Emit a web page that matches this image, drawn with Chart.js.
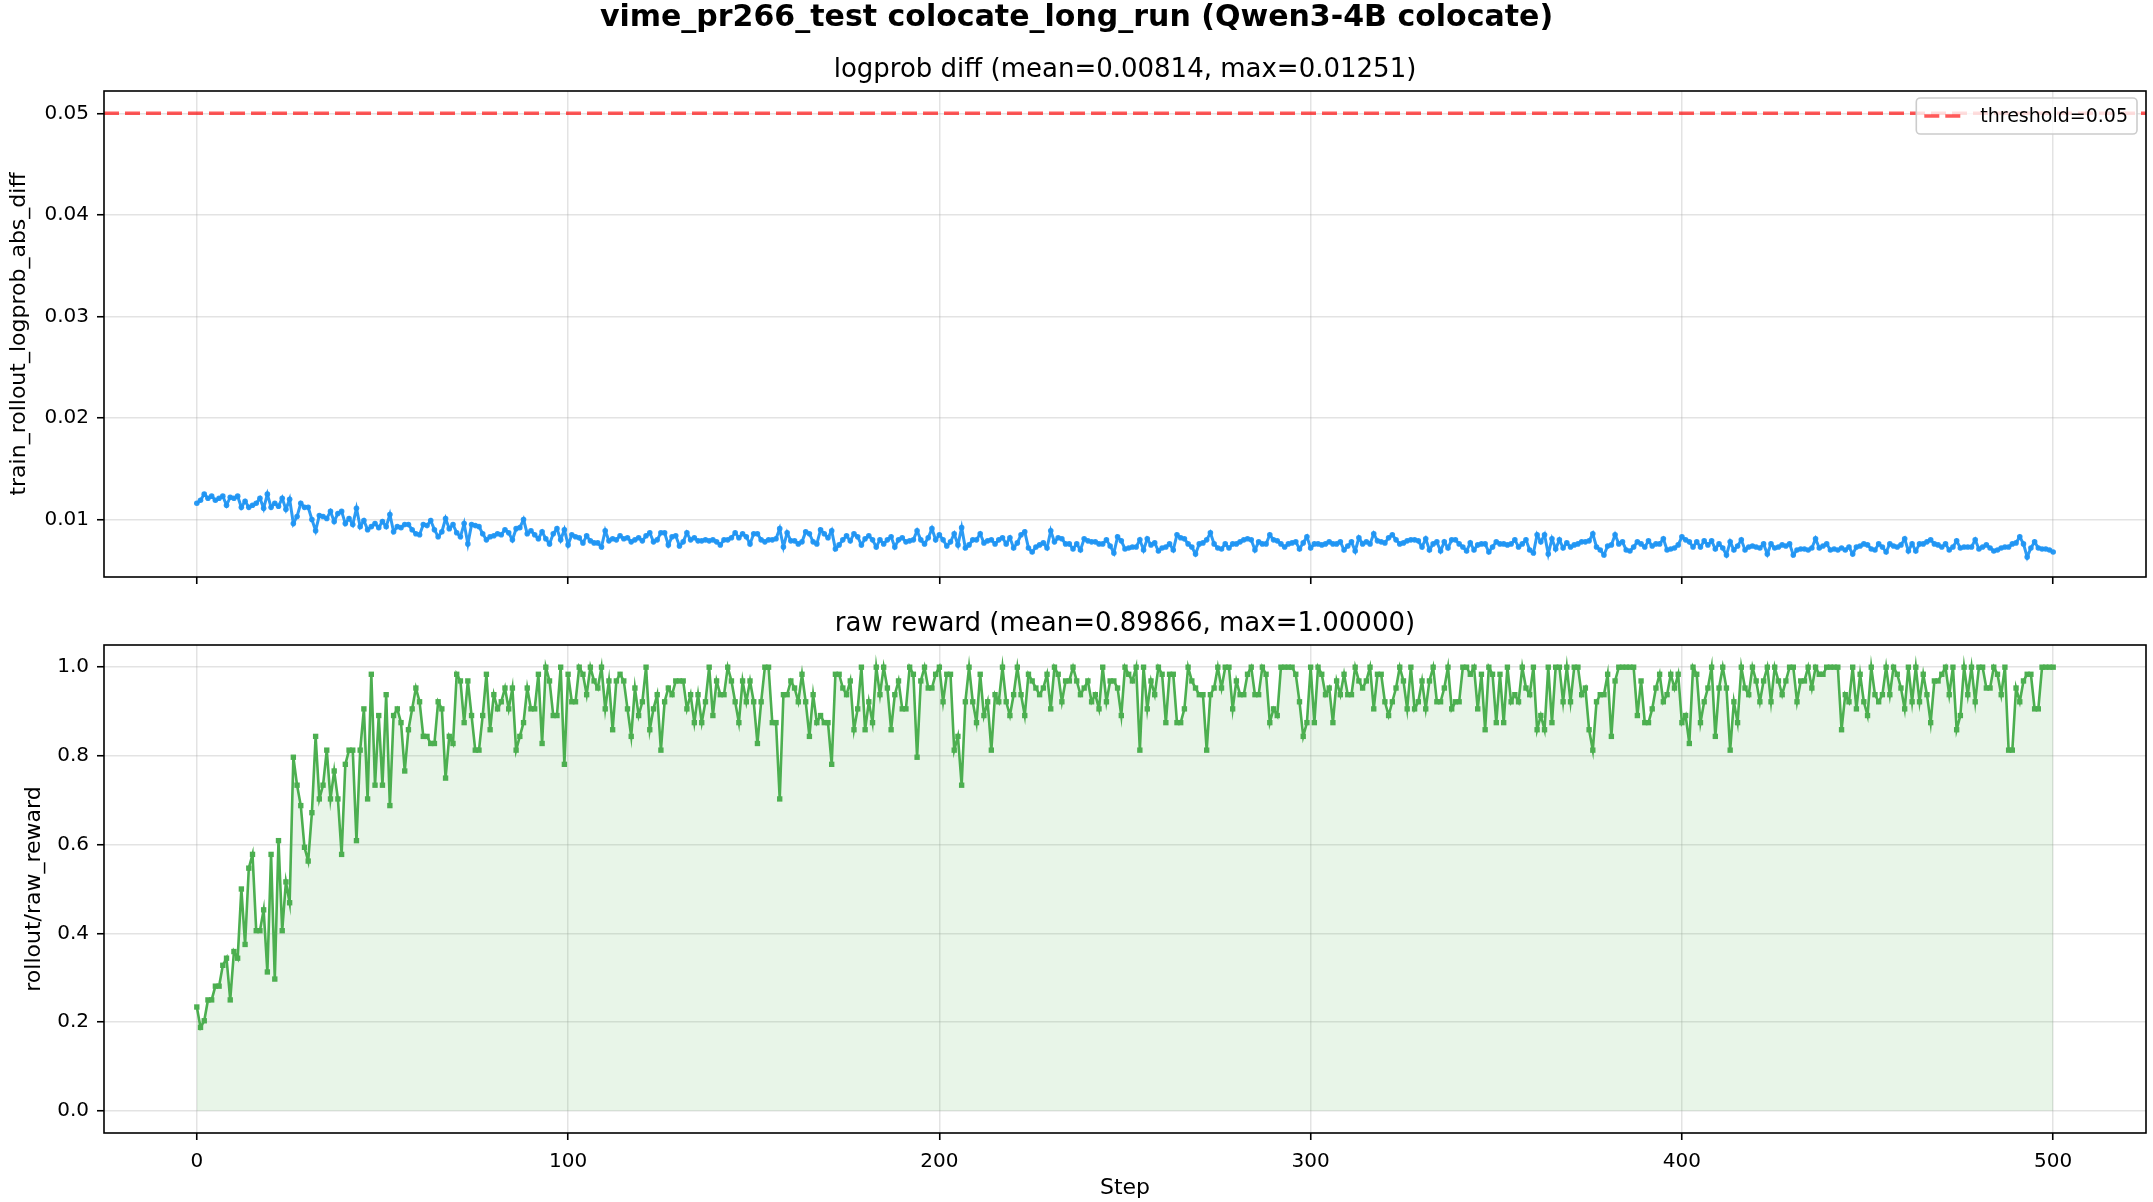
<!DOCTYPE html>
<html>
<head>
<meta charset="utf-8">
<script src="https://cdn.jsdelivr.net/npm/chart.js@4.4.0/dist/chart.umd.min.js"></script>
<style>
html,body{margin:0;padding:0;background:#ffffff;}
#wrap{position:relative;width:2153px;height:1202px;overflow:hidden;background:#fff;}
#sup{position:absolute;left:0;top:0;width:2153px;text-align:center;font-family:"DejaVu Sans";font-weight:bold;font-size:30px;line-height:32px;color:#000;z-index:5;}
canvas{position:absolute;left:0;}
#c1{top:0;}
#c2{top:600px;}
</style>
</head>
<body>
<div id="wrap">
<div id="sup">vime_pr266_test colocate_long_run (Qwen3-4B colocate)</div>
<canvas id="c1" width="2153" height="600"></canvas>
<canvas id="c2" width="2153" height="602"></canvas>
</div>
<script>
// ---------------- data ----------------
const suptitle = "vime_pr266_test colocate_long_run (Qwen3-4B colocate)";
const title1 = "logprob diff (mean=0.00814, max=0.01251)";
const title2 = "raw reward (mean=0.89866, max=1.00000)";
const ylabel1 = "train_rollout_logprob_abs_diff";
const ylabel2 = "rollout/raw_reward";
const xlabel = "Step";
const thresholdLabel = "threshold=0.05";
const threshold = 0.05;
const xTicks = [0, 100, 200, 300, 400, 500];
const yTicks1 = [0.01, 0.02, 0.03, 0.04, 0.05];
const yTicks2 = [0.0, 0.2, 0.4, 0.6, 0.8, 1.0];
const steps = Array.from({length: 501}, (_, i) => i);

const logprobDiff = [
0.0116,0.0119,0.0125,0.0121,0.0123,0.0119,0.0121,0.0123,0.0114,0.0122,
0.0121,0.0123,0.0112,0.0118,0.0112,0.0114,0.0116,0.0121,0.0111,0.0125,
0.0112,0.0116,0.0113,0.0121,0.0110,0.0120,0.0096,0.0103,0.0116,0.0112,
0.0112,0.0100,0.0089,0.0104,0.0103,0.0101,0.0108,0.0098,0.0106,0.0108,
0.0096,0.0101,0.0095,0.0111,0.0093,0.0099,0.0090,0.0093,0.0096,0.0092,
0.0098,0.0093,0.0105,0.0088,0.0093,0.0092,0.0095,0.0095,0.0090,0.0086,
0.0085,0.0095,0.0094,0.0099,0.0090,0.0083,0.0088,0.0101,0.0091,0.0095,
0.0087,0.0083,0.0096,0.0076,0.0095,0.0094,0.0093,0.0086,0.0080,0.0083,
0.0084,0.0086,0.0085,0.0090,0.0087,0.0080,0.0091,0.0092,0.0100,0.0086,
0.0089,0.0085,0.0081,0.0088,0.0081,0.0076,0.0086,0.0091,0.0080,0.0090,
0.0075,0.0085,0.0083,0.0082,0.0077,0.0084,0.0079,0.0077,0.0077,0.0073,
0.0089,0.0079,0.0081,0.0080,0.0084,0.0081,0.0082,0.0078,0.0080,0.0082,
0.0079,0.0084,0.0087,0.0078,0.0080,0.0087,0.0087,0.0075,0.0083,0.0084,
0.0074,0.0078,0.0087,0.0080,0.0082,0.0079,0.0079,0.0080,0.0079,0.0080,
0.0078,0.0075,0.0080,0.0080,0.0082,0.0087,0.0082,0.0086,0.0083,0.0076,
0.0086,0.0086,0.0080,0.0078,0.0080,0.0080,0.0081,0.0091,0.0073,0.0087,
0.0079,0.0079,0.0076,0.0078,0.0088,0.0086,0.0078,0.0076,0.0090,0.0086,
0.0082,0.0089,0.0071,0.0075,0.0080,0.0084,0.0079,0.0086,0.0083,0.0075,
0.0081,0.0084,0.0080,0.0073,0.0080,0.0076,0.0080,0.0083,0.0073,0.0080,
0.0082,0.0078,0.0079,0.0080,0.0089,0.0080,0.0076,0.0082,0.0091,0.0080,
0.0085,0.0080,0.0074,0.0078,0.0086,0.0075,0.0092,0.0072,0.0075,0.0080,
0.0080,0.0086,0.0077,0.0079,0.0080,0.0076,0.0080,0.0082,0.0076,0.0082,
0.0072,0.0077,0.0085,0.0088,0.0072,0.0068,0.0073,0.0075,0.0077,0.0072,
0.0089,0.0078,0.0082,0.0081,0.0076,0.0076,0.0071,0.0076,0.0070,0.0081,
0.0079,0.0078,0.0078,0.0076,0.0076,0.0080,0.0074,0.0067,0.0083,0.0079,
0.0071,0.0072,0.0073,0.0073,0.0080,0.0070,0.0081,0.0075,0.0077,0.0069,
0.0072,0.0073,0.0076,0.0070,0.0085,0.0082,0.0081,0.0076,0.0073,0.0066,
0.0076,0.0077,0.0080,0.0087,0.0076,0.0072,0.0071,0.0076,0.0072,0.0076,
0.0076,0.0078,0.0080,0.0081,0.0080,0.0070,0.0078,0.0076,0.0076,0.0085,
0.0080,0.0079,0.0076,0.0073,0.0076,0.0077,0.0078,0.0071,0.0077,0.0083,
0.0072,0.0076,0.0076,0.0075,0.0076,0.0078,0.0076,0.0076,0.0078,0.0070,
0.0074,0.0078,0.0069,0.0082,0.0076,0.0078,0.0076,0.0086,0.0079,0.0078,
0.0077,0.0082,0.0085,0.0080,0.0076,0.0077,0.0079,0.0080,0.0080,0.0079,
0.0073,0.0081,0.0070,0.0076,0.0078,0.0069,0.0078,0.0072,0.0080,0.0080,
0.0076,0.0073,0.0069,0.0077,0.0070,0.0075,0.0076,0.0076,0.0068,0.0073,
0.0078,0.0076,0.0076,0.0075,0.0076,0.0080,0.0073,0.0076,0.0080,0.0070,
0.0067,0.0085,0.0078,0.0085,0.0066,0.0081,0.0071,0.0080,0.0072,0.0077,
0.0073,0.0075,0.0076,0.0078,0.0078,0.0079,0.0086,0.0073,0.0070,0.0065,
0.0074,0.0075,0.0085,0.0076,0.0078,0.0070,0.0069,0.0073,0.0078,0.0076,
0.0073,0.0079,0.0074,0.0076,0.0076,0.0081,0.0070,0.0071,0.0072,0.0075,
0.0083,0.0080,0.0078,0.0073,0.0078,0.0073,0.0079,0.0075,0.0079,0.0071,
0.0076,0.0072,0.0065,0.0078,0.0070,0.0074,0.0080,0.0070,0.0073,0.0074,
0.0073,0.0072,0.0076,0.0066,0.0076,0.0072,0.0073,0.0075,0.0074,0.0076,
0.0065,0.0070,0.0071,0.0071,0.0070,0.0072,0.0081,0.0072,0.0074,0.0076,
0.0070,0.0071,0.0070,0.0072,0.0070,0.0073,0.0066,0.0073,0.0074,0.0076,
0.0075,0.0071,0.0070,0.0076,0.0073,0.0068,0.0076,0.0074,0.0073,0.0075,
0.0081,0.0069,0.0076,0.0069,0.0076,0.0076,0.0078,0.0080,0.0076,0.0075,
0.0073,0.0076,0.0070,0.0073,0.0079,0.0072,0.0073,0.0073,0.0073,0.0080,
0.0071,0.0073,0.0075,0.0072,0.0069,0.0070,0.0072,0.0073,0.0073,0.0076,
0.0077,0.0083,0.0076,0.0063,0.0072,0.0078,0.0072,0.0071,0.0071,0.0070,
0.0068
];

const rawReward = [
0.234,0.188,0.203,0.250,0.250,0.281,0.281,0.328,0.344,0.250,
0.359,0.344,0.500,0.375,0.547,0.578,0.406,0.406,0.453,0.313,
0.578,0.297,0.609,0.406,0.516,0.469,0.797,0.734,0.688,0.594,
0.563,0.672,0.844,0.703,0.734,0.813,0.703,0.766,0.703,0.578,
0.781,0.813,0.813,0.609,0.813,0.906,0.703,0.984,0.734,0.891,
0.734,0.938,0.688,0.891,0.906,0.875,0.766,0.859,0.906,0.953,
0.922,0.844,0.844,0.828,0.828,0.922,0.906,0.750,0.844,0.828,
0.984,0.969,0.875,0.969,0.891,0.813,0.813,0.891,0.984,0.859,
0.938,0.906,0.922,0.953,0.906,0.953,0.813,0.844,0.875,0.953,
0.906,0.906,0.984,0.828,1.000,0.969,0.891,0.891,1.000,0.781,
0.984,0.922,0.922,1.000,0.984,0.938,1.000,0.969,0.953,1.000,
0.906,0.969,0.859,0.969,0.984,0.969,0.906,0.844,0.953,0.891,
0.922,1.000,0.859,0.906,0.938,0.813,0.922,0.953,0.938,0.969,
0.969,0.969,0.906,0.938,0.875,0.938,0.875,0.922,1.000,0.891,
0.969,0.938,0.938,1.000,0.969,0.922,0.875,0.969,0.922,0.969,
0.922,0.828,0.922,1.000,1.000,0.875,0.875,0.703,0.938,0.938,
0.969,0.953,0.922,0.984,0.922,0.844,0.938,0.875,0.891,0.875,
0.875,0.781,0.984,0.984,0.953,0.938,0.969,0.859,0.906,1.000,
0.859,0.922,0.875,1.000,0.938,1.000,0.953,0.859,0.938,0.969,
0.906,0.906,1.000,0.984,0.797,0.969,1.000,0.953,0.953,0.984,
1.000,0.922,0.984,0.984,0.813,0.844,0.734,0.922,1.000,0.922,
0.875,0.984,0.891,0.922,0.813,0.938,0.922,1.000,0.922,0.891,
0.938,1.000,0.938,0.891,0.984,0.969,0.953,0.938,0.953,0.984,
0.906,1.000,0.984,0.922,0.969,0.969,1.000,0.969,0.938,0.953,
0.969,0.922,0.938,0.906,1.000,0.922,0.969,0.969,0.953,0.891,
1.000,0.984,0.969,1.000,0.813,1.000,0.906,0.969,0.938,1.000,
0.984,0.875,0.984,0.984,0.875,0.875,0.906,1.000,0.969,0.953,
0.938,0.938,0.813,0.938,0.953,1.000,0.953,1.000,1.000,0.906,
0.969,0.938,0.938,0.984,1.000,0.938,0.938,1.000,0.984,0.875,
0.906,0.891,1.000,1.000,1.000,1.000,0.984,0.922,0.844,0.875,
1.000,0.875,1.000,0.984,0.938,0.953,0.875,0.969,0.938,0.984,
0.938,0.938,1.000,0.969,0.953,0.969,1.000,0.906,0.984,0.984,
0.922,0.891,0.922,0.953,1.000,0.969,0.906,1.000,0.906,0.922,
0.969,0.906,0.969,1.000,0.922,0.922,0.953,1.000,0.906,0.922,
0.922,1.000,1.000,0.984,1.000,0.906,0.984,0.859,1.000,0.984,
0.875,0.984,0.875,1.000,0.922,0.938,0.922,1.000,0.953,0.938,
1.000,0.859,0.891,0.859,1.000,0.875,1.000,1.000,0.922,1.000,
0.922,1.000,1.000,0.938,0.953,0.859,0.813,0.922,0.938,0.938,
0.984,0.844,0.969,1.000,1.000,1.000,1.000,1.000,0.891,0.969,
0.875,0.875,0.906,0.953,0.984,0.922,0.938,0.984,0.953,0.984,
0.875,0.891,0.828,1.000,0.984,0.875,0.922,0.953,1.000,0.844,
0.953,1.000,0.953,0.813,0.922,0.875,1.000,0.953,0.938,1.000,
0.969,0.922,0.969,1.000,0.922,1.000,0.969,0.938,0.969,1.000,
1.000,0.922,0.969,0.969,1.000,0.953,1.000,0.984,0.984,1.000,
1.000,1.000,1.000,0.859,0.938,0.922,1.000,0.906,0.984,0.922,
0.891,1.000,0.938,0.922,0.938,1.000,0.938,1.000,0.984,0.953,
0.906,1.000,0.922,1.000,0.922,0.984,0.938,0.875,0.969,0.969,
0.984,1.000,0.938,1.000,0.859,0.891,1.000,0.938,1.000,0.922,
1.000,1.000,0.953,0.953,1.000,0.984,0.938,1.000,0.813,0.813,
0.953,0.922,0.969,0.984,0.984,0.906,0.906,1.000,1.000,1.000,
1.000
];

// ---------------- styling / helpers ----------------
const FONT = "DejaVu Sans";
Chart.defaults.font.family = FONT;
Chart.defaults.color = "#000";
const xMin = -25, xMax = 525;

const frame = {
  id: "frame",
  afterDatasetsDraw(chart) {
    const a = chart.chartArea, c = chart.ctx;
    c.save();
    c.strokeStyle = "#000";
    c.lineWidth = 1.6;
    c.strokeRect(a.left, a.top, a.right - a.left, a.bottom - a.top);
    c.restore();
  }
};
const subTitle = {
  id: "subTitle",
  afterDraw(chart, args, opts) {
    const a = chart.chartArea, c = chart.ctx;
    c.save();
    c.font = "26px '" + FONT + "'";
    c.fillStyle = "#000";
    c.textAlign = "center";
    c.textBaseline = "middle";
    c.fillText(opts.text, (a.left + a.right) / 2, a.top - 21);
    c.restore();
  }
};
const legendBox = {
  id: "legendBox",
  afterDraw(chart, args, opts) {
    if (!opts.text) return;
    const a = chart.chartArea, c = chart.ctx;
    c.save();
    c.font = "19px '" + FONT + "'";
    const tw = c.measureText(opts.text).width;
    const w = 8 + 40 + 16 + tw + 9;
    const h = 36;
    const right = a.right - 9, top = a.top + 7, left = right - w;
    c.beginPath();
    c.roundRect(left, top, w, h, 4);
    c.fillStyle = "rgba(255,255,255,0.8)";
    c.fill();
    c.strokeStyle = "rgba(204,204,204,1)";
    c.lineWidth = 1.6;
    c.stroke();
    const cy = top + h / 2;
    c.beginPath();
    c.setLineDash([15, 6]);
    c.strokeStyle = opts.color;
    c.lineWidth = 3.5;
    c.moveTo(left + 8, cy);
    c.lineTo(left + 48, cy);
    c.stroke();
    c.setLineDash([]);
    c.fillStyle = "#000";
    c.textAlign = "left";
    c.textBaseline = "middle";
    c.fillText(opts.text, left + 64, cy + 1);
    c.restore();
  }
};

function xScale(showLabels, height) {
  return {
    type: "linear", min: xMin, max: xMax,
    afterBuildTicks: s => { s.ticks = xTicks.map(v => ({value: v})); },
    afterFit: s => { s.height = height; },
    grid: {color: "rgba(176,176,176,0.35)", lineWidth: 1.5, tickLength: 7, tickColor: "#000", tickWidth: 1.6, drawTicks: true},
    border: {display: false},
    ticks: {display: showLabels, padding: 10, font: {size: 20}, color: "#000", maxRotation: 0, callback: v => String(v)},
    title: {display: showLabels, text: xlabel, font: {size: 22}, color: "#000", padding: {top: 0, bottom: 1}}
  };
}
function yScale(min, max, ticks, dec, label, titlePad) {
  return {
    type: "linear", min: min, max: max,
    afterBuildTicks: s => { s.ticks = ticks.map(v => ({value: v})); },
    afterFit: s => { s.width = 104; },
    grid: {color: "rgba(176,176,176,0.35)", lineWidth: 1.5, tickLength: 7, tickColor: "#000", tickWidth: 1.6, drawTicks: true},
    border: {display: false},
    ticks: {padding: 8, font: {size: 20}, color: "#000", callback: v => Number(v).toFixed(dec)},
    title: {display: true, text: label, font: {size: 22}, color: "#000", padding: {top: titlePad, bottom: 0}}
  };
}

// ---------------- chart 1 ----------------
new Chart(document.getElementById("c1"), {
  type: "line",
  data: {
    datasets: [
      {
        label: "logprob",
        data: steps.map((s, i) => ({x: s, y: logprobDiff[i]})),
        borderColor: "rgba(33,150,243,0.95)",
        backgroundColor: "rgba(33,150,243,0.95)",
        borderWidth: 3,
        pointRadius: 2.8,
        pointBorderWidth: 0,
        pointStyle: "circle",
        tension: 0
      },
      {
        label: thresholdLabel,
        data: [{x: xMin, y: threshold}, {x: xMax, y: threshold}],
        borderColor: "rgba(255,0,0,0.65)",
        borderWidth: 3.5,
        borderDash: [15, 6],
        pointRadius: 0
      }
    ]
  },
  options: {
    responsive: false, animation: false, events: [],
    layout: {padding: {top: 91, right: 7, left: 0, bottom: 0}},
    plugins: {
      legend: {display: false}, tooltip: {enabled: false},
      subTitle: {text: title1},
      legendBox: {text: thresholdLabel, color: "rgba(255,0,0,0.65)"}
    },
    scales: {
      x: xScale(false, 23),
      y: yScale(0.00434, 0.0522, yTicks1, 2, ylabel1, 6)
    }
  },
  plugins: [frame, subTitle, legendBox]
});

// ---------------- chart 2 ----------------
new Chart(document.getElementById("c2"), {
  type: "line",
  data: {
    datasets: [
      {
        label: "raw_reward",
        data: steps.map((s, i) => ({x: s, y: rawReward[i]})),
        borderColor: "rgb(76,175,80)",
        backgroundColor: "rgba(76,175,80,0.13)",
        pointBackgroundColor: "rgb(76,175,80)",
        borderWidth: 2.6,
        pointRadius: 3.8,
        pointBorderWidth: 0,
        pointStyle: "rect",
        fill: "origin",
        tension: 0
      }
    ]
  },
  options: {
    responsive: false, animation: false, events: [],
    layout: {padding: {top: 45, right: 7, left: 0, bottom: 0}},
    plugins: {
      legend: {display: false}, tooltip: {enabled: false},
      subTitle: {text: title2},
      legendBox: {text: ""}
    },
    scales: {
      x: xScale(true, 69),
      y: yScale(-0.05, 1.05, yTicks2, 1, ylabel2, 21)
    }
  },
  plugins: [frame, subTitle, legendBox]
});
</script>
</body>
</html>
